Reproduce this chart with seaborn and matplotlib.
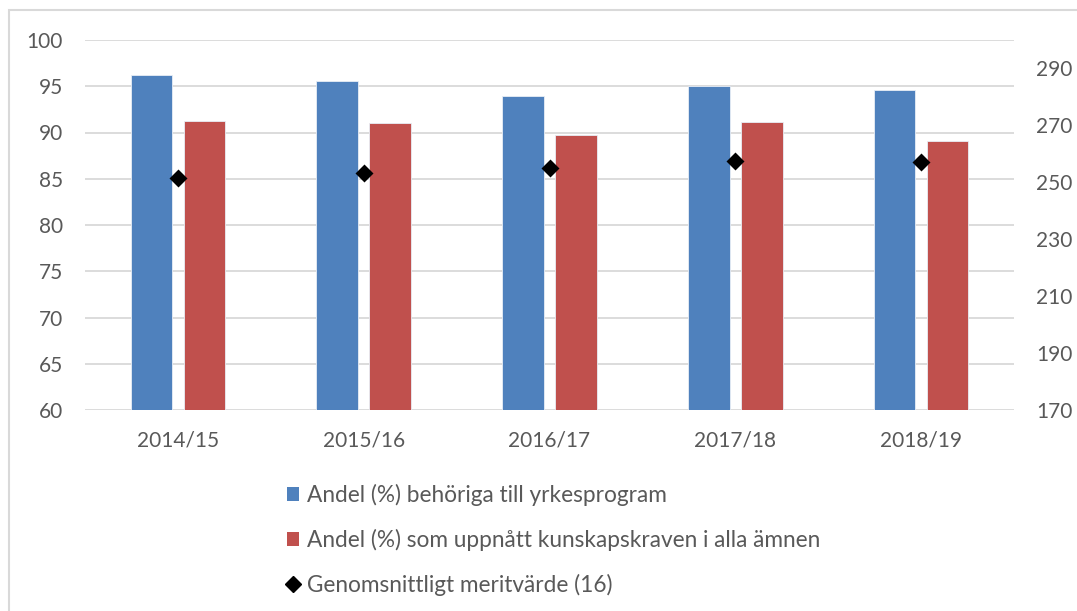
import pandas as pd
import numpy as np
import matplotlib.pyplot as plt
import seaborn as sns
from matplotlib.patches import Patch, Rectangle
from matplotlib.lines import Line2D

# --- Data ---
years = ["2014/15", "2015/16", "2016/17", "2017/18", "2018/19"]
behoriga = [96.2, 95.6, 94.0, 95.0, 94.6]
kunskapskrav = [91.2, 91.0, 89.7, 91.1, 89.1]
meritvarde = [251.4, 253.1, 255.2, 257.4, 257.0]

lbl_blue = "Andel (%) behöriga till yrkesprogram"
lbl_red = "Andel (%) som uppnått kunskapskraven i alla ämnen"
lbl_merit = "Genomsnittligt meritvärde (16)"

blue = "#4F81BD"
red = "#C0504D"
grid = "#D9D9D9"
txt = "#595959"

df = pd.DataFrame({"year": years * 2,
                   "value": behoriga + kunskapskrav,
                   "serie": [lbl_blue] * len(years) + [lbl_red] * len(years)})
df_merit = pd.DataFrame({"year": years, "merit": meritvarde})

sns.set_style("white")
plt.rcParams["font.family"] = ["Lato", "DejaVu Sans"]
plt.rcParams["font.size"] = 15

fig = plt.figure(figsize=(10.77, 6.11), dpi=100)
ax = fig.add_axes([85 / 1077, 1 - 410 / 611, (1014 - 85) / 1077, 370 / 611])

sns.barplot(data=df, x="year", y="value", hue="serie", palette=[blue, red],
            saturation=1, width=0.57, gap=0.214, ax=ax, legend=False,
            edgecolor="#E8EEF6", linewidth=0.6)

ax.set_ylim(60, 100)
ax.set_yticks(np.arange(60, 101, 5))
ax.set_xlim(-0.5, len(years) - 0.5)
ax.yaxis.grid(True, color=grid, linewidth=1.3)
ax.set_axisbelow(True)
ax.set_xlabel("")
ax.set_ylabel("")
sns.despine(ax=ax, left=True, bottom=True)
ax.tick_params(axis="both", length=0, colors=txt, labelsize=15)
ax.tick_params(axis="y", pad=16)
ax.tick_params(axis="x", pad=15)

# --- Secondary axis: meritvärde ---
ax2 = ax.twinx()
sns.pointplot(data=df_merit, x="year", y="merit", ax=ax2, color="black",
              markers="D", linestyle="none", markersize=7.5, errorbar=None)
ax2.set_ylim(170, 300)
ax2.set_yticks(np.arange(170, 291, 20))
ax2.set_xlim(-0.5, len(years) - 0.5)
ax2.set_ylabel("")
ax2.set_xlabel("")
sns.despine(ax=ax2, left=True, bottom=True, right=True)
ax2.tick_params(axis="y", length=0, colors=txt, labelsize=15, pad=16)

# --- Legend ---
handles = [Patch(facecolor=blue, edgecolor="none"),
           Patch(facecolor=red, edgecolor="none"),
           Line2D([], [], marker="D", color="black", linestyle="none", markersize=8.5)]
fig.legend(handles, [lbl_blue, lbl_red, lbl_merit], loc="upper left",
           bbox_to_anchor=(287 / 1077, 1 - 484 / 611), frameon=False,
           handlelength=0.55, handleheight=0.55, handletextpad=0.33,
           labelspacing=1.0, borderpad=0, borderaxespad=0,
           fontsize=16.3, labelcolor=txt)

# chart area border
fig.add_artist(Rectangle((9 / 1077, -0.1), 1.2, 1 - 10 / 611 + 0.1,
                         transform=fig.transFigure, fill=False,
                         edgecolor=grid, linewidth=1.5))

fig.savefig("out.png", dpi=100)
